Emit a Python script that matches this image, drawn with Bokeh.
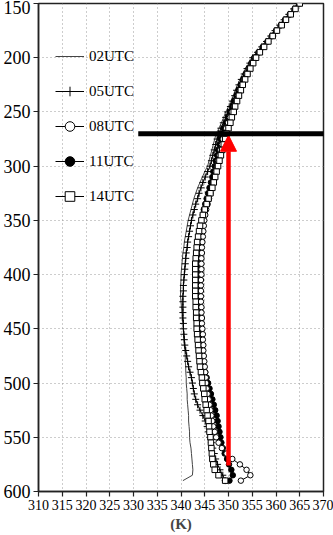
from bokeh.plotting import figure
from bokeh.models import Range1d, FixedTicker, Legend, LegendItem, Arrow, NormalHead
from bokeh.embed import file_html
from bokeh.resources import INLINE

# pressure levels (hPa)
P_LEVELS = list(range(150, 595, 5))

# equivalent potential temperature (K) per time
T02 = [364.5, 363.6, 362.6, 361.6, 360.6, 359.6, 358.7, 357.8, 356.8, 355.9,
       354.9, 354.3, 353.6, 353.0, 352.4, 351.9, 351.4, 351.0, 350.5, 350.0,
       349.4, 349.0, 348.5, 348.0, 347.4, 347.1, 346.8, 346.5, 346.2, 345.9,
       345.6, 345.0, 344.5, 344.0, 343.5, 343.1, 342.7, 342.4, 342.1, 341.8,
       341.5, 341.3, 341.1, 340.9, 340.7, 340.6, 340.4, 340.3, 340.2, 340.1,
       340.0, 340.0, 339.9, 339.9, 339.9, 340.0, 340.1, 340.2, 340.3, 340.4,
       340.5, 340.6, 340.6, 340.7, 340.8, 340.9, 340.9, 341.0, 341.0, 341.1,
       341.1, 341.2, 341.3, 341.3, 341.4, 341.5, 341.6, 341.6, 341.7, 341.8,
       341.8, 341.9, 342.1, 342.2, 342.3, 342.4, 342.5, 342.4, 340.4]
T05 = [364.6, 363.7, 362.7, 361.7, 360.8, 359.8, 358.9, 358.0, 357.0, 356.1,
       355.1, 354.5, 353.9, 353.3, 352.7, 352.2, 351.7, 351.3, 350.8, 350.4,
       349.8, 349.4, 348.9, 348.4, 347.9, 347.6, 347.3, 347.0, 346.7, 346.4,
       346.1, 345.6, 345.1, 344.6, 344.2, 343.8, 343.5, 343.1, 342.8, 342.5,
       342.2, 342.0, 341.8, 341.6, 341.4, 341.3, 341.1, 341.0, 340.9, 340.8,
       340.7, 340.6, 340.5, 340.5, 340.4, 340.4, 340.4, 340.4, 340.4, 340.5,
       340.5, 340.6, 340.7, 340.8, 341.0, 341.2, 341.4, 341.6, 341.9, 342.2,
       342.4, 342.6, 342.8, 343.1, 343.5, 344.0, 344.6, 345.1, 345.5, 345.8,
       346.1, 346.4, 346.7, 347.0, 347.3, 347.7, 348.2, 348.8, 349.3]
T08 = [364.9, 364.0, 363.0, 362.0, 361.1, 360.1, 359.2, 358.3, 357.4, 356.5,
       355.6, 355.0, 354.4, 353.8, 353.3, 352.8, 352.4, 352.0, 351.6, 351.2,
       350.7, 350.3, 349.9, 349.5, 349.1, 348.8, 348.6, 348.3, 348.1, 347.8,
       347.6, 347.3, 347.1, 346.8, 346.5, 346.2, 345.9, 345.6, 345.3, 345.1,
       344.9, 344.8, 344.7, 344.6, 344.5, 344.4, 344.4, 344.3, 344.3, 344.3,
       344.3, 344.2, 344.2, 344.2, 344.2, 344.2, 344.3, 344.3, 344.4, 344.4,
       344.5, 344.6, 344.6, 344.7, 344.7, 344.8, 344.9, 345.0, 345.1, 345.2,
       345.3, 345.4, 345.6, 345.8, 346.0, 346.2, 346.4, 346.6, 346.8, 347.1,
       347.4, 347.9, 348.6, 349.6, 350.8, 352.4, 353.8, 354.6, 352.6]
T11 = [364.8, 363.9, 362.9, 361.9, 361.0, 360.0, 359.1, 358.2, 357.2, 356.3,
       355.4, 354.8, 354.2, 353.6, 353.1, 352.6, 352.1, 351.7, 351.2, 350.8,
       350.3, 349.9, 349.5, 349.0, 348.5, 348.3, 348.1, 347.8, 347.6, 347.3,
       347.1, 346.8, 346.6, 346.3, 346.0, 345.7, 345.4, 345.1, 344.8, 344.6,
       344.4, 344.2, 344.1, 344.0, 343.9, 343.8, 343.7, 343.7, 343.6, 343.6,
       343.6, 343.6, 343.6, 343.6, 343.6, 343.6, 343.6, 343.7, 343.7, 343.8,
       343.8, 343.9, 344.0, 344.1, 344.2, 344.3, 344.5, 344.8, 345.1, 345.4,
       345.7, 346.0, 346.3, 346.6, 346.9, 347.2, 347.5, 347.7, 347.9, 348.1,
       348.3, 348.5, 348.8, 349.2, 349.7, 350.1, 350.6, 350.9, 350.2]
T14 = [365.0, 364.1, 363.1, 362.1, 361.2, 360.2, 359.3, 358.4, 357.5, 356.6,
       355.8, 355.2, 354.6, 354.0, 353.5, 353.0, 352.6, 352.2, 351.8, 351.4,
       351.1, 350.7, 350.4, 350.0, 349.6, 349.3, 349.0, 348.7, 348.4, 348.1,
       347.8, 347.5, 347.2, 346.9, 346.6, 346.2, 345.8, 345.4, 345.0, 344.6,
       344.3, 344.0, 343.8, 343.6, 343.4, 343.3, 343.2, 343.1, 343.0, 343.0,
       343.0, 343.0, 343.0, 343.0, 343.0, 343.1, 343.1, 343.2, 343.2, 343.3,
       343.3, 343.4, 343.5, 343.6, 343.7, 343.8, 343.9, 344.0, 344.2, 344.4,
       344.5, 344.7, 344.9, 345.0, 345.2, 345.4, 345.6, 345.8, 345.9, 346.0,
       346.2, 346.3, 346.4, 346.5, 346.6, 346.8, 347.1, 347.9, 349.3]

SERIES_LABELS = ["02UTC", "05UTC", "08UTC", "11UTC", "14UTC"]
X_TICKS = list(range(310, 375, 5))
Y_TICKS = list(range(150, 650, 50))

# annotation values: level line and arrow
LEVEL_P = 270
LEVEL_X = [331, 372.5]
ARROW_X = 350
ARROW_P = [576, 271.5]

FONT = "Liberation Serif"

p = figure(width=333, height=535, output_backend="svg", toolbar_location=None,
           x_range=Range1d(310, 370), y_range=Range1d(600, 150),
           min_border_left=36, min_border_right=10, min_border_top=3,
           min_border_bottom=44)
p.background_fill_color = "white"
p.border_fill_color = "white"
p.outline_line_color = "#222222"
p.outline_line_width = 1.5

p.xaxis.ticker = FixedTicker(ticks=X_TICKS)
p.yaxis.ticker = FixedTicker(ticks=Y_TICKS)
for ax in (p.xaxis, p.yaxis):
    ax.axis_line_color = "#222222"
    ax.axis_line_width = 1.5
    ax.major_tick_line_color = "#222222"
    ax.major_tick_line_width = 1.2
    ax.major_tick_in = 0
    ax.major_tick_out = 5
    ax.minor_tick_line_color = None
    ax.major_label_text_font = FONT
    ax.major_label_text_color = "black"
p.xaxis.major_label_text_font_size = "14px"
p.xaxis.major_label_standoff = 3
p.yaxis.major_label_text_font_size = "18px"
p.yaxis.major_label_standoff = 3
p.xaxis.axis_label = "(K)"
p.xaxis.axis_label_text_font = FONT
p.xaxis.axis_label_text_font_size = "15px"
p.xaxis.axis_label_text_font_style = "bold"
p.xaxis.axis_label_standoff = 3

for g in (p.xgrid, p.ygrid):
    g.grid_line_color = "#9a9a9a"
    g.grid_line_dash = "1 3"
    g.grid_line_width = 1

r02 = p.line(T02, P_LEVELS, line_color="#444444", line_width=1)
r05l = p.line(T05, P_LEVELS, line_color="black", line_width=1)
r05s = p.scatter(T05, P_LEVELS, marker="cross", size=7, line_color="black", line_width=1)
r11l = p.line(T11, P_LEVELS, line_color="black", line_width=1)
r11s = p.scatter(T11, P_LEVELS, marker="circle", size=5.5, fill_color="black",
                 line_color="black", line_width=1)
r08l = p.line(T08, P_LEVELS, line_color="black", line_width=1)
r08s = p.scatter(T08, P_LEVELS, marker="circle", size=5.5, fill_color="white",
                 line_color="black", line_width=1)
r14l = p.line(T14, P_LEVELS, line_color="black", line_width=1)
r14s = p.scatter(T14, P_LEVELS, marker="square", size=5.5, fill_color="white",
                 line_color="black", line_width=1)

legend = Legend(items=[
    LegendItem(label=SERIES_LABELS[0], renderers=[r02]),
    LegendItem(label=SERIES_LABELS[1], renderers=[r05l, r05s]),
    LegendItem(label=SERIES_LABELS[2], renderers=[r08l, r08s]),
    LegendItem(label=SERIES_LABELS[3], renderers=[r11l, r11s]),
    LegendItem(label=SERIES_LABELS[4], renderers=[r14l, r14s]),
], location=(17, 283))
legend.glyph_width = 29
legend.glyph_height = 24
legend.label_height = 20
legend.spacing = 11
legend.padding = 0
legend.margin = 0
legend.label_standoff = 5
legend.label_text_font = FONT
legend.label_text_font_size = "15px"
legend.label_text_color = "black"
legend.background_fill_alpha = 0
legend.border_line_alpha = 0
p.add_layout(legend)

p.add_layout(Arrow(end=NormalHead(size=16, fill_color="red", line_color="red"),
                   x_start=ARROW_X, y_start=ARROW_P[0], x_end=ARROW_X, y_end=ARROW_P[1],
                   line_color="red", line_width=4.5))
p.add_layout(Arrow(end=None, x_start=LEVEL_X[0], y_start=LEVEL_P, x_end=LEVEL_X[1],
                   y_end=LEVEL_P, line_color="black", line_width=5))

open("out.html", "w").write(file_html(p, INLINE))
